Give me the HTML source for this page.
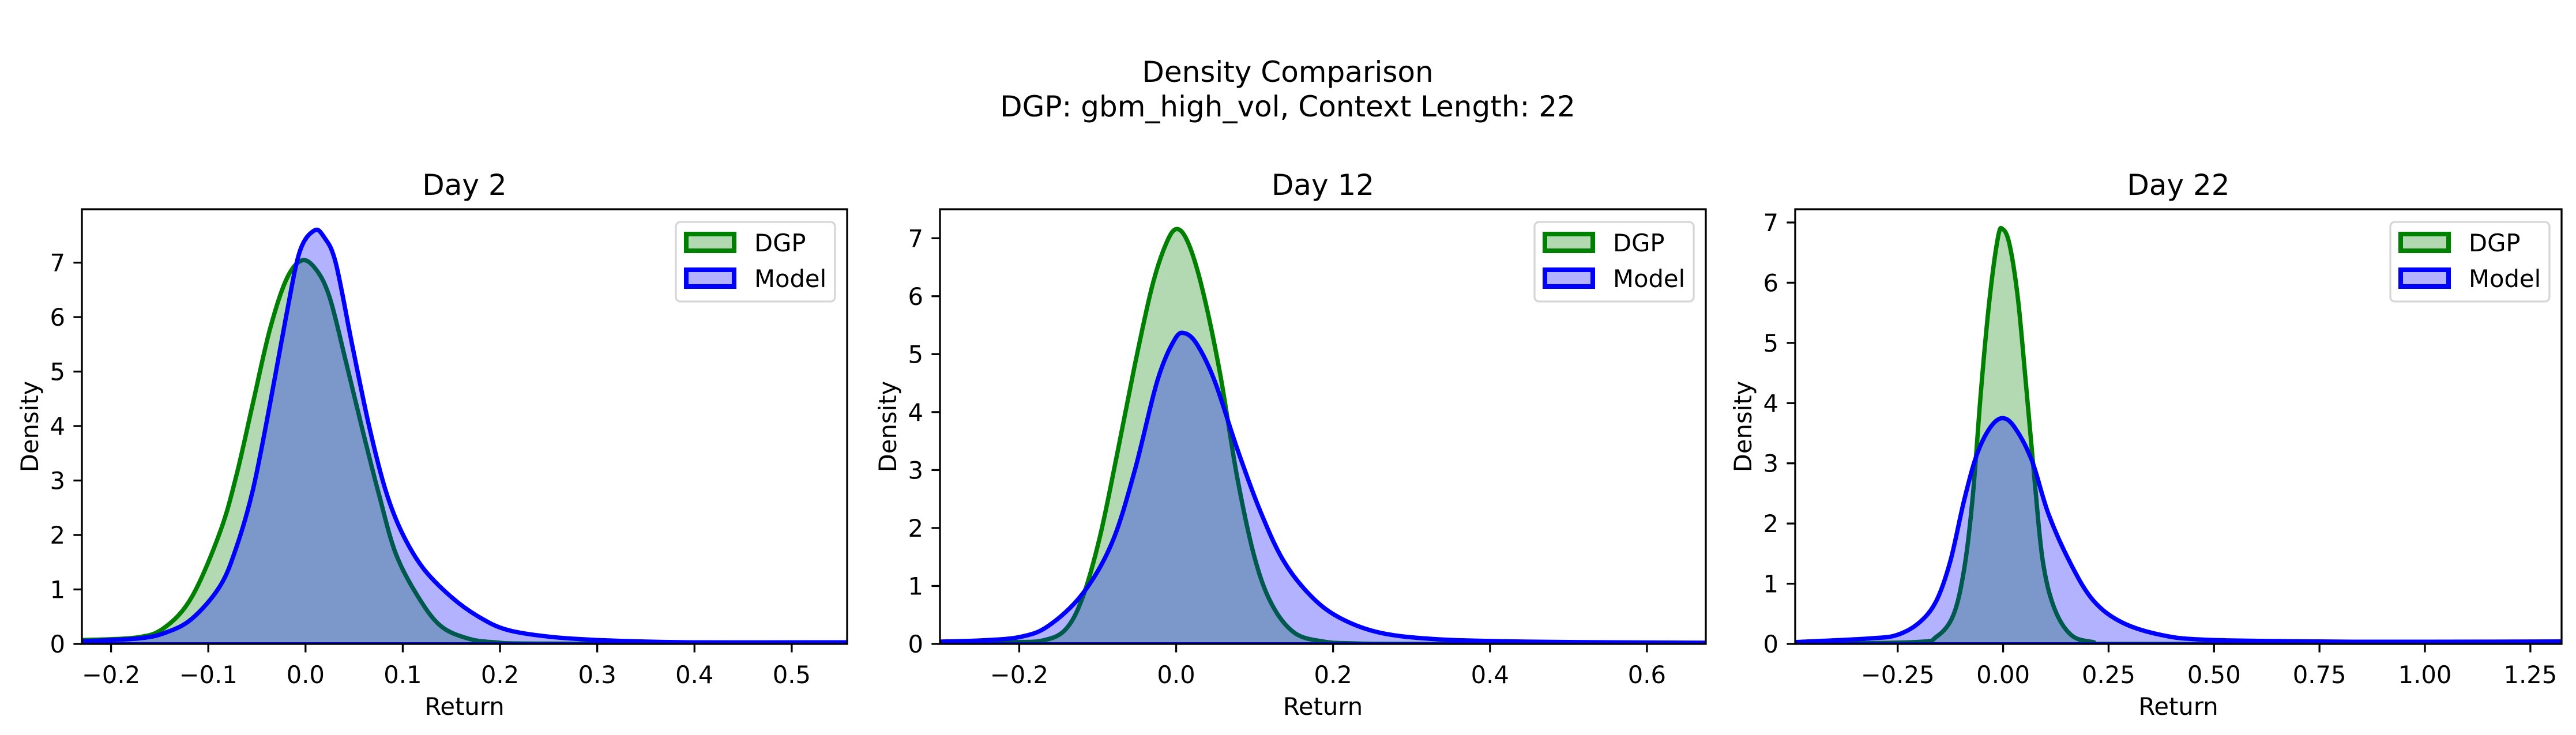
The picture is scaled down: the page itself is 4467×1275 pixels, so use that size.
<!DOCTYPE html>
<html><head><meta charset="utf-8"><style>
html,body{margin:0;padding:0;background:#fff}
svg{display:block}
text{font-family:"DejaVu Sans","Liberation Sans",sans-serif;fill:#000}
</style></head><body>
<svg id="fig" width="4467" height="1275" viewBox="0 0 4467 1275" xmlns="http://www.w3.org/2000/svg">
<rect width="4467" height="1275" fill="#fff"/>
<text x="2233" y="142" font-size="50" text-anchor="middle">Density Comparison</text>
<text x="2233" y="202" font-size="50" text-anchor="middle">DGP: gbm_high_vol, Context Length: 22</text>
</svg>
<script>
// Panel titles
const panelTitles = ["Day 2", "Day 12", "Day 22"];
// X tick labels per panel
const xTicks1 = [-0.2,-0.1,0.0,0.1,0.2,0.3,0.4,0.5];
const xTickLabels1 = ["−0.2","−0.1","0.0","0.1","0.2","0.3","0.4","0.5"];
const xTicks2 = [-0.2,0.0,0.2,0.4,0.6];
const xTickLabels2 = ["−0.2","0.0","0.2","0.4","0.6"];
const xTicks3 = [-0.25,0,0.25,0.5,0.75,1.0,1.25];
const xTickLabels3 = ["−0.25","0.00","0.25","0.50","0.75","1.00","1.25"];
const yTicks1 = [0,1,2,3,4,5,6,7];
const yTicks2 = [0,1,2,3,4,5,6,7];
const yTicks3 = [0,1,2,3,4,5,6,7];
// Axis ranges
const xRange1 = [-0.230, 0.557], yRange1 = [0, 7.98];
const xRange2 = [-0.301, 0.675], yRange2 = [0, 7.5];
const xRange3 = [-0.493, 1.324], yRange3 = [0, 7.22];
// Day 2 curves
const dgp1X = [-0.23,-0.173,-0.145,-0.117,-0.088,-0.071,-0.054,-0.037,-0.02,-0.004,0.011,0.025,0.042,0.059,0.076,0.093,0.116,0.139,0.167,0.195,0.25,0.557];
const dgp1Y = [0.07,0.12,0.3,0.86,2.05,3.1,4.43,5.75,6.68,7.04,6.87,6.35,5.15,3.9,2.71,1.65,0.86,0.33,0.1,0.03,0.005,0];
const mod1X = [-0.23,-0.173,-0.145,-0.117,-0.088,-0.071,-0.054,-0.037,-0.02,-0.006,0.009,0.019,0.031,0.048,0.065,0.082,0.099,0.121,0.15,0.178,0.207,0.252,0.309,0.394,0.557];
const mod1Y = [0.05,0.1,0.2,0.46,1.06,1.78,2.84,4.36,6.01,7.2,7.59,7.47,7.0,5.49,4.03,2.84,2.05,1.39,0.86,0.5,0.26,0.13,0.066,0.03,0.03];
// Day 12 curves
const dgp2X = [-0.301,-0.214,-0.17,-0.141,-0.119,-0.097,-0.075,-0.053,-0.031,-0.013,0.001,0.016,0.034,0.056,0.078,0.1,0.122,0.151,0.188,0.224,0.3,0.675];
const dgp2Y = [0.01,0.03,0.06,0.25,0.81,1.86,3.29,4.79,6.15,6.9,7.16,6.9,6.09,4.66,2.86,1.49,0.68,0.19,0.04,0.01,0,0];
const mod2X = [-0.301,-0.25,-0.199,-0.163,-0.119,-0.082,-0.053,-0.024,-0.002,0.011,0.027,0.049,0.078,0.107,0.137,0.173,0.21,0.261,0.334,0.443,0.589,0.675];
const mod2Y = [0.04,0.06,0.12,0.31,0.87,1.74,2.98,4.54,5.25,5.36,5.16,4.54,3.36,2.3,1.43,0.81,0.44,0.19,0.08,0.04,0.025,0.02];
// Day 22 curves
const dgp3X = [-0.493,-0.211,-0.158,-0.118,-0.092,-0.072,-0.052,-0.032,-0.012,-0.001,0.015,0.035,0.055,0.075,0.094,0.121,0.161,0.214,0.28,1.324];
const dgp3Y = [0,0.03,0.12,0.48,1.26,2.45,4.25,5.74,6.76,6.89,6.64,5.74,4.25,2.69,1.38,0.6,0.15,0.03,0,0];
const mod3X = [-0.493,-0.318,-0.251,-0.198,-0.158,-0.125,-0.092,-0.062,-0.03,-0.001,0.028,0.068,0.108,0.161,0.214,0.281,0.374,0.48,0.746,1.012,1.324];
const mod3Y = [0.03,0.09,0.15,0.36,0.72,1.38,2.4,3.15,3.6,3.75,3.59,3.05,2.15,1.32,0.72,0.36,0.15,0.07,0.04,0.035,0.04];

const NS = "http://www.w3.org/2000/svg";
const svg = document.getElementById('fig');
function mk(tag, attrs, parent){
  const e = document.createElementNS(NS, tag);
  for (const k in attrs) e.setAttribute(k, attrs[k]);
  (parent||svg).appendChild(e);
  return e;
}
const panels = [
  {L:142,R:1469,T:363,B:1117,xr:xRange1,yr:yRange1,xt:xTicks1,xl:xTickLabels1,yt:yTicks1,dx:dgp1X,dy:dgp1Y,mx:mod1X,my:mod1Y},
  {L:1630,R:2958,T:363,B:1117,xr:xRange2,yr:yRange2,xt:xTicks2,xl:xTickLabels2,yt:yTicks2,dx:dgp2X,dy:dgp2Y,mx:mod2X,my:mod2Y},
  {L:3113,R:4442,T:363,B:1117,xr:xRange3,yr:yRange3,xt:xTicks3,xl:xTickLabels3,yt:yTicks3,dx:dgp3X,dy:dgp3Y,mx:mod3X,my:mod3Y}
];
function smoothPath(pts){
  let d = "M"+pts[0][0].toFixed(1)+","+pts[0][1].toFixed(1);
  for (let i=0;i<pts.length-1;i++){
    const p0=pts[Math.max(0,i-1)], p1=pts[i], p2=pts[i+1], p3=pts[Math.min(pts.length-1,i+2)];
    const c1x=p1[0]+(p2[0]-p0[0])/6, c1y=p1[1]+(p2[1]-p0[1])/6;
    const c2x=p2[0]-(p3[0]-p1[0])/6, c2y=p2[1]-(p3[1]-p1[1])/6;
    d += " C"+c1x.toFixed(1)+","+c1y.toFixed(1)+" "+c2x.toFixed(1)+","+c2y.toFixed(1)+" "+p2[0].toFixed(1)+","+p2[1].toFixed(1);
  }
  return d;
}
panels.forEach((p, idx) => {
  const g = mk('g', {});
  
  
  const xs = v => p.L + (v - p.xr[0]) / (p.xr[1]-p.xr[0]) * (p.R - p.L);
  const ys = v => p.B - (v - p.yr[0]) / (p.yr[1]-p.yr[0]) * (p.B - p.T);
  const cid = 'clip'+idx;
  const cp = mk('clipPath', {id:cid}, g);
  mk('rect', {x:p.L, y:p.T, width:p.R-p.L, height:p.B-p.T}, cp);
  const plot = mk('g', {'clip-path':'url(#'+cid+')'}, g);
  function series(X, Y, col, fillCol, name){
    const pts = X.map((x,i)=>[xs(x), ys(Y[i])]);
    const line = smoothPath(pts);
    const area = mk('path', {d: line + " L"+pts[pts.length-1][0].toFixed(1)+","+ys(0)+" L"+pts[0][0].toFixed(1)+","+ys(0)+" Z", fill: fillCol, 'fill-opacity':0.3, stroke:'none'}, plot);
    
    
    const ln = mk('path', {d: line, fill:'none', stroke:col, 'stroke-width':7.5, 'stroke-linejoin':'round'}, plot);
    
    
    const base = mk('line', {x1:pts[0][0], x2:pts[pts.length-1][0], y1:ys(0)-1, y2:ys(0)-1, stroke:col, 'stroke-width':4}, plot);
    
    
  }
  series(p.dx, p.dy, '#008000', '#008000', 'dgp-density');
  series(p.mx, p.my, '#0000ff', '#0000ff', 'model-density');
  const frame = mk('rect', {x:p.L, y:p.T, width:p.R-p.L, height:p.B-p.T, fill:'none', stroke:'#000', 'stroke-width':3.3}, g);
  
  
  p.xt.forEach((v,i)=>{
    const x = xs(v);
    const t = mk('line', {x1:x, x2:x, y1:p.B, y2:p.B+14.6, stroke:'#000', 'stroke-width':3.3}, g);
    
    
    const lb = mk('text', {x:x, y:p.B+68, 'font-size':41.7, 'text-anchor':'middle'}, g);
    lb.textContent = p.xl[i];
    
    
  });
  p.yt.forEach(v=>{
    const y = ys(v);
    const t = mk('line', {x1:p.L-14.6, x2:p.L, y1:y, y2:y, stroke:'#000', 'stroke-width':3.3}, g);
    
    
    const lb = mk('text', {x:p.L-29, y:y+15, 'font-size':41.7, 'text-anchor':'end'}, g);
    lb.textContent = String(v);
    
    
  });
  const ttl = mk('text', {x:(p.L+p.R)/2, y:338, 'font-size':50, 'text-anchor':'middle'}, g);
  ttl.textContent = panelTitles[idx];
  
  
  const xl = mk('text', {x:(p.L+p.R)/2, y:1240, 'font-size':41.7, 'text-anchor':'middle'}, g);
  xl.textContent = 'Return';
  
  
  const ylx = p.L - 76;
  const yl = mk('text', {x:ylx, y:(p.T+p.B)/2, 'font-size':41.7, 'text-anchor':'middle', transform:'rotate(-90 '+ylx+' '+((p.T+p.B)/2)+')'}, g);
  yl.textContent = 'Density';
  
  
  // legend
  const lg = mk('g', {}, g);
  
  
  const lx = p.R - 297, ly = p.T + 22;
  mk('rect', {x:lx, y:ly, width:276, height:138, rx:8, fill:'#fff', 'fill-opacity':0.8, stroke:'#d6d6d6', 'stroke-width':3.3}, lg);
  [['DGP','#008000'],['Model','#0000ff']].forEach((e,i)=>{
    const ent = mk('g', {}, lg);
    
    
    const py = ly + 21 + i*62;
    mk('rect', {x:lx+18, y:py, width:83, height:29, fill:e[1], 'fill-opacity':0.3, stroke:e[1], 'stroke-width':8}, ent);
    const tx = mk('text', {x:lx+136, y:py+30, 'font-size':41.7}, ent);
    tx.textContent = e[0];
  });
});
</script>
</body></html>
